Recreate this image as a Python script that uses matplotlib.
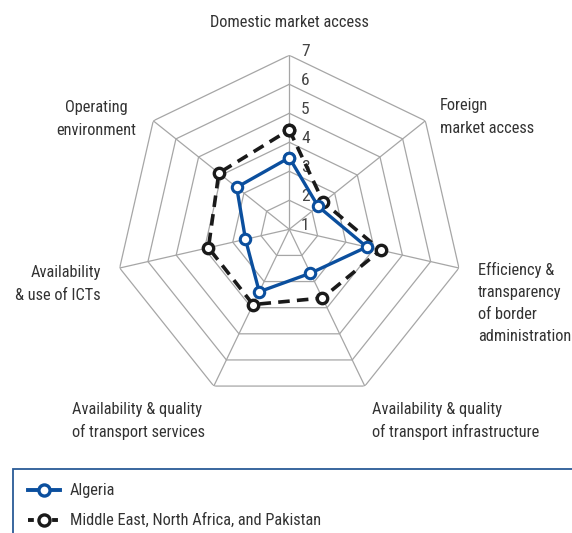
import numpy as np
import matplotlib
matplotlib.use("Agg")
import matplotlib.pyplot as plt
from matplotlib.lines import Line2D
from matplotlib.patches import Rectangle
from matplotlib import font_manager

categories = ["Domestic market access", "Foreign\nmarket access",
              "Efficiency &\ntransparency\nof border\nadministration",
              "Availability & quality\nof transport infrastructure",
              "Availability & quality\nof transport services",
              "Availability\n& use of ICTs", "Operating\nenvironment"]
algeria = [3.47, 2.27, 3.74, 2.68, 3.39, 2.55, 3.32]
menap = [4.43, 2.5, 4.23, 3.63, 3.88, 3.86, 4.11]
ticks = [1, 2, 3, 4, 5, 6, 7]
series_names = ["Algeria", "Middle East, North Africa, and Pakistan"]

names = {f.name for f in font_manager.fontManager.ttflist}
fam = [f for f in ["Roboto Condensed", "Liberation Sans Narrow", "Roboto", "DejaVu Sans"] if f in names]
plt.rcParams['font.family'] = fam

W, H = 572, 533
fig = plt.figure(figsize=(W / 100, H / 100), dpi=100)
cx, cy, R = 289.3, 229.3, 174.0
ax = fig.add_axes([(cx - R) / W, (H - cy - R) / H, 2 * R / W, 2 * R / H], projection='polar')
ax.set_theta_offset(np.pi / 2)
ax.set_theta_direction(-1)
ax.set_ylim(1, 7)
ax.grid(False)
ax.spines['polar'].set_visible(False)
ax.set_xticks([])
ax.set_yticks([])
ax.patch.set_visible(False)

n = len(categories)
ang = np.arange(n) * 2 * np.pi / n
angc = np.append(ang, ang[0])
grid_c = '#a6a6a6'
for t in ticks[1:]:
    ax.plot(angc, [t] * (n + 1), color=grid_c, lw=0.9, zorder=1)
for a in ang:
    ax.plot([a, a], [ticks[0], ticks[-1]], color=grid_c, lw=0.9, zorder=1)
for t in ticks:
    ax.annotate(str(t), xy=(0, t), xytext=(11.5, 3), textcoords='offset points',
                fontsize=12.5, color='#444444', ha='center', va='center', zorder=2,
                annotation_clip=False)

blue = '#0b4f9e'
ax.plot(angc, algeria + algeria[:1], color=blue, lw=2.4, marker='o', ms=7.5,
        mfc='white', mec=blue, mew=2.2, zorder=4, clip_on=False)
ax.plot(angc, menap + menap[:1], color='#1a1a1a', lw=2.6, ls=(0, (3.2, 2.0)), marker='o', ms=7.5,
        mfc='white', mec='#1a1a1a', mew=2.4, zorder=3, clip_on=False)

tc = '#333333'
fs = 11.8
lab = [
    (289, 22, 'center', 'center'),
    (440, 117, 'left', 'center'),
    (478, 303, 'left', 'center'),
    (372, 421, 'left', 'center'),
    (72, 421, 'left', 'center'),
    (101, 284, 'right', 'center'),
    (96, 119, 'center', 'center'),
]
for (x, y, ha, va), c in zip(lab, categories):
    fig.text(x / W, 1 - y / H, c, ha=ha, va=va, fontsize=fs, color=tc, linespacing=1.6,
             multialignment=ha if ha != 'center' else 'center')

# legend box
fig.patches.append(Rectangle((13 / W, -0.05), 0.99, (533 - 469) / H + 0.05, transform=fig.transFigure,
                             fill=False, ec='#2a5a96', lw=1.3))
hx = np.array([28, 60]) / W
for yy, col, ls, name in [(490, blue, '-', series_names[0]), (520, '#1a1a1a', (0, (1.5, 1.6)), series_names[1])]:
    fig.add_artist(Line2D(hx, [1 - yy / H] * 2, color=col, lw=2.8, ls=ls,
                          transform=fig.transFigure))
    fig.add_artist(Line2D([44 / W], [1 - yy / H], color=col, marker='o', ms=8, mfc='white',
                          mec=col, mew=2.4, transform=fig.transFigure))
    fig.text(70 / W, 1 - yy / H, name, ha='left', va='center', fontsize=fs, color=tc)

fig.savefig('out.png', dpi=100)
